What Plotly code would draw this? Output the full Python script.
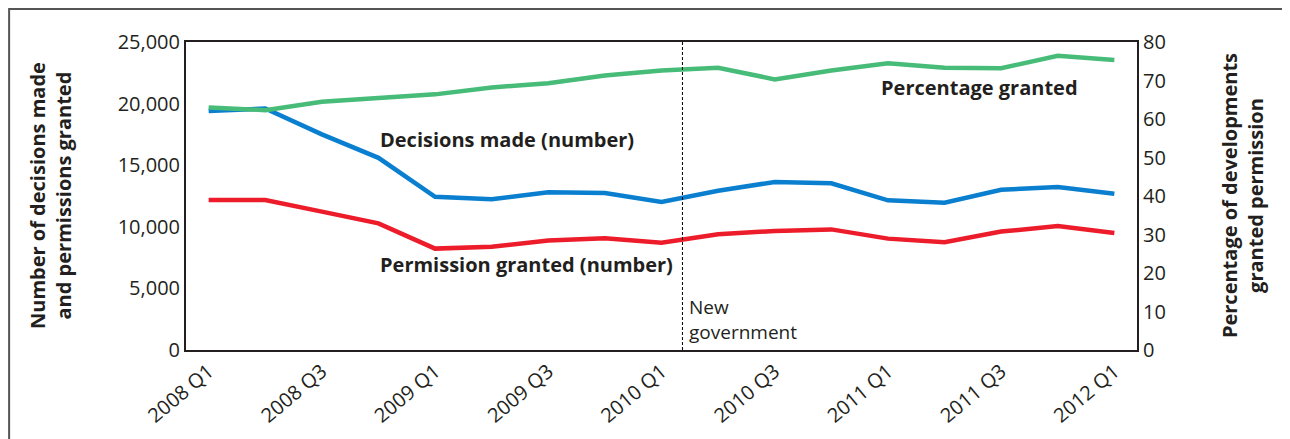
import plotly.graph_objects as go

quarters = [
    "2008 Q1", "2008 Q2", "2008 Q3", "2008 Q4",
    "2009 Q1", "2009 Q2", "2009 Q3", "2009 Q4",
    "2010 Q1", "2010 Q2", "2010 Q3", "2010 Q4",
    "2011 Q1", "2011 Q2", "2011 Q3", "2011 Q4",
    "2012 Q1",
]
decisions_made = [
    19400, 19600, 17500, 15600, 12440, 12230, 12800, 12740,
    12010, 12930, 13640, 13530, 12150, 11960, 13010, 13230, 12690,
]
permission_granted = [
    12180, 12180, 11230, 10280, 8230, 8390, 8880, 9070,
    8710, 9390, 9660, 9790, 9040, 8740, 9610, 10060, 9500,
]
percentage_granted = [
    63.0, 62.3, 64.5, 65.4, 66.4, 68.2, 69.3, 71.3,
    72.6, 73.3, 70.3, 72.6, 74.5, 73.3, 73.2, 76.4, 75.3,
]

FONT = "Open Sans"
INK = "#231f20"
BLUE = "#0a7fcf"
RED = "#ec1c2a"
GREEN = "#47bb78"

idx = list(range(len(quarters)))

fig = go.Figure()
fig.add_trace(go.Scatter(x=idx, y=decisions_made, mode="lines",
                         line=dict(color=BLUE, width=4.5), name="Decisions made"))
fig.add_trace(go.Scatter(x=idx, y=permission_granted, mode="lines",
                         line=dict(color=RED, width=4.5), name="Permission granted"))
fig.add_trace(go.Scatter(x=idx, y=percentage_granted, mode="lines", yaxis="y2",
                         line=dict(color=GREEN, width=4.5), name="Percentage granted"))

# election marker (May 2010)
gov_x = 8.37
fig.add_shape(type="line", x0=gov_x, x1=gov_x, y0=0, y1=1, yref="paper",
              line=dict(color="black", width=1, dash="3px,2px"))

# outer frame (runs off the right and bottom of the picture)
fig.add_shape(type="rect", xref="paper", yref="paper",
              x0=-0.186, x1=1.2, y0=-0.35, y1=1.107,
              line=dict(color="#555555", width=2), layer="below")

label_font = dict(family=FONT, size=20, color=INK)
fig.add_annotation(x=3.0, y=17050, text="<b>Decisions made (number)</b>",
                   xanchor="left", showarrow=False, font=label_font)
fig.add_annotation(x=3.0, y=6900, text="<b>Permission granted (number)</b>",
                   xanchor="left", showarrow=False, font=label_font)
fig.add_annotation(x=11.84, y=68.3, yref="y2", text="<b>Percentage granted</b>",
                   xanchor="left", showarrow=False, font=label_font)
fig.add_annotation(x=8.45, y=2500, text="New<br>government", align="left",
                   xanchor="left", showarrow=False,
                   font=dict(family=FONT, size=19, color=INK))

# axis titles
title_font = dict(family=FONT, size=20, color=INK)
fig.add_annotation(xref="paper", yref="paper", x=-0.143, y=0.5, textangle=-90,
                   xanchor="center", yanchor="middle",
                   text="<b>Number of decisions made<br>and permissions granted</b>",
                   showarrow=False, font=title_font)
fig.add_annotation(xref="paper", yref="paper", x=1.1105, y=0.5, textangle=-90,
                   xanchor="center", yanchor="middle",
                   text="<b>Percentage of developments<br>granted permission</b>",
                   showarrow=False, font=title_font)

tick_font = dict(family=FONT, size=20, color=INK)
fig.update_layout(
    width=1290, height=439,
    margin=dict(l=178, r=161, t=34, b=97),
    paper_bgcolor="white", plot_bgcolor="white",
    showlegend=False,
    xaxis=dict(
        range=[-0.4, 16.4], automargin=False,
        tickmode="array", tickvals=idx[::2], ticktext=quarters[::2],
        tickangle=-40, tickfont=tick_font,
        showgrid=False, zeroline=False,
        showline=True, linecolor=INK, linewidth=2, mirror=True,
    ),
    yaxis=dict(
        range=[0, 25000], dtick=5000, tickformat=",d", automargin=False,
        tickfont=tick_font, showgrid=False, zeroline=False,
        showline=True, linecolor=INK, linewidth=2, mirror=True,
    ),
    yaxis2=dict(
        range=[0, 80], dtick=10, overlaying="y", side="right", automargin=False,
        tickfont=tick_font, showgrid=False, zeroline=False,
        showline=True, linecolor=INK, linewidth=2,
    ),
)

fig.write_html("out.html")
